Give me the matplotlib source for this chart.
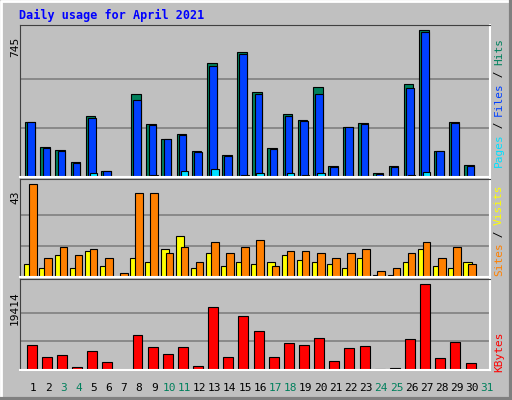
import numpy as np
import matplotlib.pyplot as plt

days = np.arange(1, 31)
hits = [279, 152, 137, 76, 310, 30, 2, 422, 269, 193, 218, 132, 579, 112, 635,
        432, 147, 320, 290, 457, 56, 254, 274, 20, 56, 472, 745, 132, 279, 61]
files = [279, 147, 132, 71, 300, 30, 0, 391, 264, 193, 213, 127, 564, 107, 625,
         422, 142, 310, 284, 422, 51, 254, 269, 15, 51, 452, 735, 132, 274, 56]
pages = [5, 2, 5, 5, 20, 2, 0, 5, 8, 5, 30, 2, 40, 5, 8,
         20, 5, 20, 10, 20, 5, 5, 5, 2, 2, 10, 25, 2, 5, 5]
visits = [43, 9, 14, 10, 13, 9, 2, 39, 39, 11, 14, 7, 16, 11, 14,
          17, 5, 12, 12, 11, 9, 11, 13, 3, 4, 11, 16, 9, 14, 6]
sites = [6, 4, 10, 4, 12, 5, 0, 9, 7, 13, 19, 4, 11, 5, 7,
         6, 7, 10, 8, 7, 6, 4, 9, 1, 1, 7, 13, 5, 4, 7]
kbytes = [5597, 2834, 3472, 708, 4322, 1771, 0, 7936, 5172, 3684, 5172, 921, 14313, 2834, 12187,
          8786, 3047, 6022, 5597, 7298, 1984, 4960, 5385, 213, 496, 7085, 19414, 2622, 6235, 1559]
weekend = [3, 4, 10, 11, 17, 18, 24, 25, 31]

BG = '#C0C0C0'
W, H = 512, 400
fig = plt.figure(figsize=(W / 100, H / 100), dpi=100, facecolor=BG)

# bevel border
fig.add_artist(plt.Line2D([1 / W, 1 / W, 1 - 1 / W], [1 / H, 1 - 1 / H, 1 - 1 / H], color='white', lw=2, transform=fig.transFigure))
fig.add_artist(plt.Line2D([1 / W, 1 - 1 / W, 1 - 1 / W], [1 / H, 1 / H, 1 - 1 / H], color='#808080', lw=3, transform=fig.transFigure))

mono = 'DejaVu Sans Mono'
fig.text(19 / W, 1 - 15 / H, 'Daily usage for April 2021', color='#0000FF', fontsize=8.5,
         fontweight='bold', family=mono, va='center')


def panel(top, bottom, vmax):
    ax = fig.add_axes([20 / W, 1 - bottom / H, 470 / W, (bottom - top) / H])
    ax.set_facecolor(BG)
    ax.set_xlim(0.14, 31.18)
    span = (bottom - top) - 5
    ax.set_ylim(0, vmax * (bottom - top) / span)
    for g in (vmax / 3, 2 * vmax / 3):
        ax.axhline(g, color='#808080', lw=1.2, zorder=0)
    ax.set_xticks([])
    ax.set_yticks([])
    for s in ('top', 'left'):
        ax.spines[s].set_color('#404040')
    for s in ('bottom', 'right'):
        ax.spines[s].set_color('white')
        ax.spines[s].set_linewidth(1.5)
    fig.text(15 / W, 1 - (top + 12) / H, f'{vmax}', rotation=90, family=mono,
             fontsize=8, ha='center', va='top')
    return ax


ax1 = panel(25, 177, 745)
ax1.bar(days - 0.2, hits, width=0.64, color='#00805C', edgecolor='black', lw=0.8)
ax1.bar(days - 0.12, files, width=0.5, color='#0040FF', edgecolor='black', lw=0.8)
ax1.bar(days + 0.0, pages, width=0.5, color='#00E0FF', edgecolor='black', lw=0.8)

ax2 = panel(179, 277, 43)
ax2.bar(days - 0.3, sites, width=0.55, color='#FFFF00', edgecolor='black', lw=0.8)
ax2.bar(days + 0.0, visits, width=0.5, color='#FF8000', edgecolor='black', lw=0.8)

ax3 = panel(279, 370, 19414)
ax3.bar(days - 0.1, kbytes, width=0.66, color='#FF0000', edgecolor='black', lw=0.8)

# day labels
for d in range(1, 32):
    x = 20 + (d - 0.14) * 470 / (31.18 - 0.14)
    fig.text(x / W, 1 - 388 / H, str(d), color='#00805C' if d in weekend else 'black',
             family=mono, fontsize=8, ha='center', va='center')


def side_label(parts, bottom):
    # stack rotated text pieces from the bottom up
    y = bottom
    for txt, col in parts:
        fig.text(499 / W, 1 - y / H, txt, color=col, rotation=90, family=mono,
                 fontsize=8, ha='center', va='bottom')
        y -= len(txt) * 6.4


side_label([('Pages', '#00E0FF'), (' / ', 'black'), ('Files', '#0040FF'), (' / ', 'black'), ('Hits', '#00805C')], 167)
side_label([('Sites', '#FF8000'), (' / ', 'black'), ('Visits', '#FFFF00')], 276)
side_label([('KBytes', '#FF0000')], 372)

fig.savefig('out.png', dpi=100, facecolor=BG)
